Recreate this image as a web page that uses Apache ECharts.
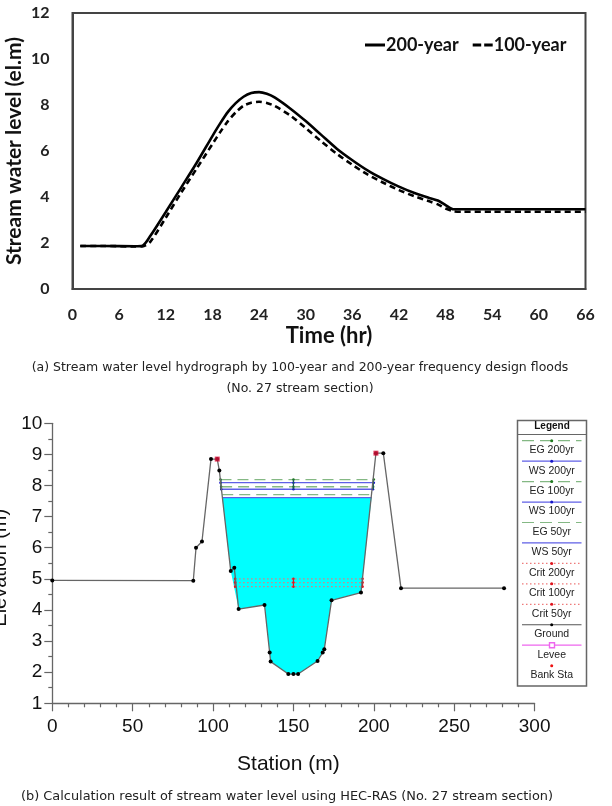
<!DOCTYPE html>
<html>
<head>
<meta charset="utf-8">
<style>html,body{margin:0;padding:0;background:#fff}#c{width:612px;height:806px}</style>
<script src="https://cdn.jsdelivr.net/npm/echarts@6/dist/echarts.min.js"></script>
</head>
<body>
<div id="c"></div>
<script>
// Hydrograph (upper panel)
var hours = [1,4,8,9,10,12,14,16,18,19,20,21,22,23,24,25,26,28,30,32,34,36,38,40,42,44,46,47,48,49,50,54,58,62,66];
var level200 = [1.87,1.87,1.86,1.88,2.3,3.35,4.42,5.5,6.65,7.2,7.7,8.08,8.36,8.52,8.56,8.49,8.33,7.85,7.3,6.7,6.1,5.6,5.15,4.78,4.45,4.17,3.95,3.85,3.65,3.47,3.47,3.47,3.47,3.47,3.47];
var level100 = [1.87,1.87,1.85,1.85,2.05,3.1,4.2,5.25,6.3,6.82,7.3,7.68,7.97,8.1,8.14,8.09,7.96,7.55,7.0,6.42,5.88,5.4,4.97,4.62,4.3,4.03,3.8,3.68,3.5,3.38,3.36,3.36,3.36,3.36,3.36];

// Cross-section (lower panel)
var groundStation = [0,87.7,89.4,93.1,98.7,102.6,103.9,111,113.2,115.9,132,135.2,135.8,146.8,150,152.9,165,168.2,169.2,173.7,192,201.3,205.9,216.9,281];
var groundElev = [4.95,4.94,6.0,6.2,8.85,8.85,8.48,5.25,5.36,4.03,4.16,2.63,2.34,1.94,1.94,1.94,2.36,2.63,2.74,4.31,4.56,9.04,9.04,4.70,4.70];
var leveeStation = [102.6,201.3];
var leveeElev = [8.85,9.04];
var waterStation = [105.7,111,115.9,132,135.2,135.8,146.8,150,152.9,165,168.2,169.2,173.7,192,198.6];
var waterElev = [7.61,5.25,4.03,4.16,2.63,2.34,1.94,1.94,1.94,2.36,2.63,2.74,4.31,4.56,7.61];
var eg200 = 8.19, ws200 = 8.09, eg100 = 7.96, ws100 = 7.88, eg50 = 7.71, ws50 = 7.61;
var crit200 = 5.0, crit100 = 4.88, crit50 = 4.75;
var bankLeft = 104.6, bankRight = 200, bankLow = 105.7, bankLowR = 198.6;
var critLeft = 113.7, critRight = 193, midStation = 150;
var legendNames = ['EG 200yr','WS 200yr','EG 100yr','WS 100yr','EG 50yr','WS 50yr','Crit 200yr','Crit 100yr','Crit 50yr','Ground','Levee','Bank Sta'];

var zip = function (a, b) { return a.map(function (v, i) { return [v, b[i]]; }); };
var SANS = '"Liberation Sans", Arial, sans-serif';
var BOLD = 'Lato, sans-serif';

// One horizontal computed level across the section, with its small centre tick
function levelSeries(name, y, x0, x1, kind) {
  var st = {
    EG: { color: '#84b884', type: [11, 6], mark: '#1f7a1f' },
    WS: { color: '#5f5fe6', type: 'solid', mark: '#1414c8' },
    Crit: { color: '#e87a7a', type: [1.5, 2.5], mark: '#e0141e' }
  }[kind];
  return {
    type: 'line', name: name, xAxisIndex: 1, yAxisIndex: 1, silent: true, z: 4,
    data: [[x0, y], [midStation, y], [x1, y]],
    symbol: 'circle', symbolSize: 2.5, showSymbol: true,
    itemStyle: { color: st.mark },
    lineStyle: { color: st.color, width: 1.3, type: st.type }
  };
}
function stemSeries(x, y0, y1, color) {
  return {
    type: 'line', xAxisIndex: 1, yAxisIndex: 1, silent: true, z: 5, symbol: 'none',
    data: [[x, y0], [x, y1]],
    lineStyle: { color: color, width: 1.2 }
  };
}

// Key of the lower panel, drawn as a boxed column
var keyStyle = {
  'EG': { stroke: '#84b884', dash: [12, 6], dot: '#1f7a1f' },
  'WS': { stroke: '#5f5fe6', dash: null, dot: '#1414c8' },
  'Crit': { stroke: '#ee7a7a', dash: [1.5, 2.5], dot: '#e0141e' },
  'Ground': { stroke: '#555', dash: null, dot: '#000' },
  'Levee': { stroke: '#ee66ee', dash: null, dot: '#ee66ee', square: true },
  'Bank': { stroke: null, dash: null, dot: '#ee1111' }
};
var keyGraphics = [
  { type: 'rect', shape: { x: 517.5, y: 420.5, width: 69, height: 265.5 }, style: { fill: '#fff', stroke: '#666', lineWidth: 1.5 } },
  { type: 'line', shape: { x1: 517.5, y1: 434.5, x2: 586.5, y2: 434.5 }, style: { stroke: '#666', lineWidth: 1.2 } },
  { type: 'text', x: 552, y: 426.5, style: { text: 'Legend', font: 'bold 10px ' + SANS, fill: '#111', textAlign: 'center', textVerticalAlign: 'middle' } }
];
legendNames.forEach(function (name, i) {
  var y = 440.7 + i * 20.45;
  var k = keyStyle[name.split(' ')[0]];
  if (k.stroke) {
    keyGraphics.push({ type: 'line', shape: { x1: 522, y1: y, x2: 581.5, y2: y }, style: { stroke: k.stroke, lineWidth: 1.2, lineDash: k.dash } });
  }
  if (k.square) {
    keyGraphics.push({ type: 'rect', shape: { x: 549.5, y: y - 2.5, width: 5, height: 5 }, style: { fill: '#fff', stroke: k.dot, lineWidth: 1.4 } });
  } else if (name !== 'EG 50yr' && name !== 'WS 50yr') {
    keyGraphics.push({ type: 'circle', shape: { cx: 551.7, cy: y, r: 1.5 }, style: { fill: k.dot } });
  }
  keyGraphics.push({ type: 'text', x: 551.7, y: y + 9.5, style: { text: name, font: '10.5px ' + SANS, fill: '#222', textAlign: 'center', textVerticalAlign: 'middle' } });
});

var captions = [
  ['(a) Stream water level hydrograph by 100-year and 200-year frequency design floods', 300, 368, 12.5],
  ['(No. 27 stream section)', 300, 389, 12.5],
  ['(b) Calculation result of stream water level using HEC-RAS (No. 27 stream section)', 287, 797, 12.9]
].map(function (c) {
  return { type: 'text', x: c[1], y: c[2], style: { text: c[0], font: c[3] + 'px "DejaVu Sans", sans-serif', fill: '#222', textAlign: 'center', textVerticalAlign: 'middle' } };
});

var chart = echarts.init(document.getElementById('c'), null, { renderer: 'canvas' });
chart.setOption({
  animation: false,
  backgroundColor: '#fff',
  legend: {
    left: 360, top: 31, itemWidth: 20, itemHeight: 3, itemGap: 14,
    textStyle: { fontFamily: BOLD, fontWeight: 'bold', fontSize: 18, color: '#111', padding: [0, 0, 0, -4] },
    data: [
      { name: '200-year', icon: 'path://M0 0H20V3H0Z' },
      { name: '100-year', icon: 'path://M0 0H8.5V3H0Z M11.5 0H20V3H11.5Z' }
    ]
  },
  grid: [
    { left: 72.5, right: 26.5, top: 13, height: 276, show: true, borderColor: '#444', borderWidth: 2, backgroundColor: 'transparent', outerBoundsMode: 'none' },
    { left: 52.3, width: 482.3, top: 423.3, height: 280, show: false, outerBoundsMode: 'none' }
  ],
  xAxis: [
    {
      gridIndex: 0, type: 'value', min: 0, max: 66, interval: 6,
      name: 'Time (hr)', nameLocation: 'middle', nameGap: 36, nameMoveOverlap: false,
      nameTextStyle: { fontFamily: BOLD, fontWeight: 'bold', fontSize: 22, color: '#111' },
      axisLine: { lineStyle: { color: '#444', width: 2 } }, axisTick: { show: false },
      axisLabel: { fontFamily: BOLD, fontWeight: 'bold', fontSize: 16, color: '#222', margin: 18 },
      splitLine: { show: false }
    },
    {
      gridIndex: 1, type: 'value', min: 0, max: 300, interval: 50,
      name: 'Station (m)', nameLocation: 'middle', nameGap: 50, nameMoveOverlap: false,
      nameTextStyle: { fontFamily: SANS, fontSize: 21, color: '#111', padding: [0, 10, 0, 0] },
      axisLine: { onZero: false, lineStyle: { color: '#666', width: 1.3 } },
      axisTick: { length: 8, lineStyle: { color: '#666', width: 1.2 } },
      minorTick: { show: true, splitNumber: 5, length: 4, lineStyle: { color: '#666', width: 1.2 } },
      axisLabel: { fontFamily: SANS, fontSize: 19, color: '#111', margin: 14 },
      splitLine: { show: false }
    }
  ],
  yAxis: [
    {
      gridIndex: 0, type: 'value', min: 0, max: 12, interval: 2,
      name: 'Stream water level (el.m)', nameLocation: 'middle', nameGap: 48, nameMoveOverlap: false,
      nameTextStyle: { fontFamily: BOLD, fontWeight: 'bold', fontSize: 21, color: '#111' },
      axisLine: { show: true, lineStyle: { color: '#444', width: 2 } }, axisTick: { show: false },
      axisLabel: { fontFamily: BOLD, fontWeight: 'bold', fontSize: 16, color: '#222', margin: 23 },
      splitLine: { show: false }
    },
    {
      gridIndex: 1, type: 'value', min: 1, max: 10, interval: 1,
      name: 'Elevation (m)', nameLocation: 'middle', nameGap: 42, nameMoveOverlap: false,
      nameTextStyle: { fontFamily: SANS, fontSize: 20, color: '#111', padding: [0, 9, 0, 0] },
      axisLine: { show: true, onZero: false, lineStyle: { color: '#666', width: 1.3 } },
      axisTick: { length: 8, lineStyle: { color: '#666', width: 1.2 } },
      minorTick: { show: true, splitNumber: 2, length: 4, lineStyle: { color: '#666', width: 1.2 } },
      axisLabel: { fontFamily: SANS, fontSize: 19, color: '#111', margin: 10 },
      splitLine: { show: false }
    }
  ],
  series: [
    {
      type: 'line', name: '200-year', xAxisIndex: 0, yAxisIndex: 0, data: zip(hours, level200),
      smooth: 0.25, showSymbol: false, symbol: 'none', z: 3,
      itemStyle: { color: '#000' }, lineStyle: { color: '#000', width: 2.6 }
    },
    {
      type: 'line', name: '100-year', xAxisIndex: 0, yAxisIndex: 0, data: zip(hours, level100),
      smooth: 0.25, showSymbol: false, symbol: 'none', z: 4,
      itemStyle: { color: '#000' }, lineStyle: { color: '#000', width: 2.6, type: [6, 4] }
    },
    // Water body up to the lowest computed surface
    {
      type: 'custom', xAxisIndex: 1, yAxisIndex: 1, silent: true, z: 2,
      data: zip(waterStation, waterElev),
      encode: { x: 0, y: 1 },
      renderItem: function (params, api) {
        if (params.dataIndex !== 0) return null;
        var pts = waterStation.map(function (s, i) { return api.coord([s, waterElev[i]]); });
        return { type: 'polygon', shape: { points: pts }, style: { fill: '#00ffff' } };
      }
    },
    levelSeries('EG 200yr', eg200, bankLeft, bankRight, 'EG'),
    levelSeries('WS 200yr', ws200, bankLeft, bankRight, 'WS'),
    levelSeries('EG 100yr', eg100, bankLeft + 0.4, bankRight - 0.4, 'EG'),
    levelSeries('WS 100yr', ws100, bankLeft + 0.5, bankRight - 0.5, 'WS'),
    {
      type: 'line', name: 'EG 50yr', xAxisIndex: 1, yAxisIndex: 1, silent: true, z: 4, symbol: 'none',
      data: [[bankLow, eg50], [bankLowR, eg50]], lineStyle: { color: '#84b884', width: 1.3, type: [11, 6] }
    },
    {
      type: 'line', name: 'WS 50yr', xAxisIndex: 1, yAxisIndex: 1, silent: true, z: 4, symbol: 'none',
      data: [[bankLow, ws50], [bankLowR, ws50]], lineStyle: { color: '#5f5fe6', width: 1.3 }
    },
    levelSeries('Crit 200yr', crit200, critLeft, critRight, 'Crit'),
    levelSeries('Crit 100yr', crit100, critLeft, critRight, 'Crit'),
    levelSeries('Crit 50yr', crit50, critLeft, critRight, 'Crit'),
    stemSeries(midStation, eg200, ws100, '#1a5a5a'),
    stemSeries(bankLeft + 0.3, eg200, ws100, '#1a5a5a'),
    stemSeries(bankRight - 0.3, eg200, ws100, '#1a5a5a'),
    stemSeries(midStation, crit200, crit50, '#e0141e'),
    stemSeries(critLeft, crit200, crit50, '#e0141e'),
    stemSeries(critRight, crit200, crit50, '#e0141e'),
    {
      type: 'line', name: 'Ground', xAxisIndex: 1, yAxisIndex: 1, silent: true, z: 6,
      data: zip(groundStation, groundElev),
      symbol: 'circle', symbolSize: 4, showSymbol: true, showAllSymbol: true,
      itemStyle: { color: '#000' }, lineStyle: { color: '#666', width: 1.3 }
    },
    {
      type: 'scatter', name: 'Levee', xAxisIndex: 1, yAxisIndex: 1, silent: true, z: 7,
      data: zip(leveeStation, leveeElev), symbol: 'rect', symbolSize: 5,
      itemStyle: { color: '#dc143c' }
    }
  ],
  graphic: captions.concat(keyGraphics)
});
</script>
</body>
</html>
